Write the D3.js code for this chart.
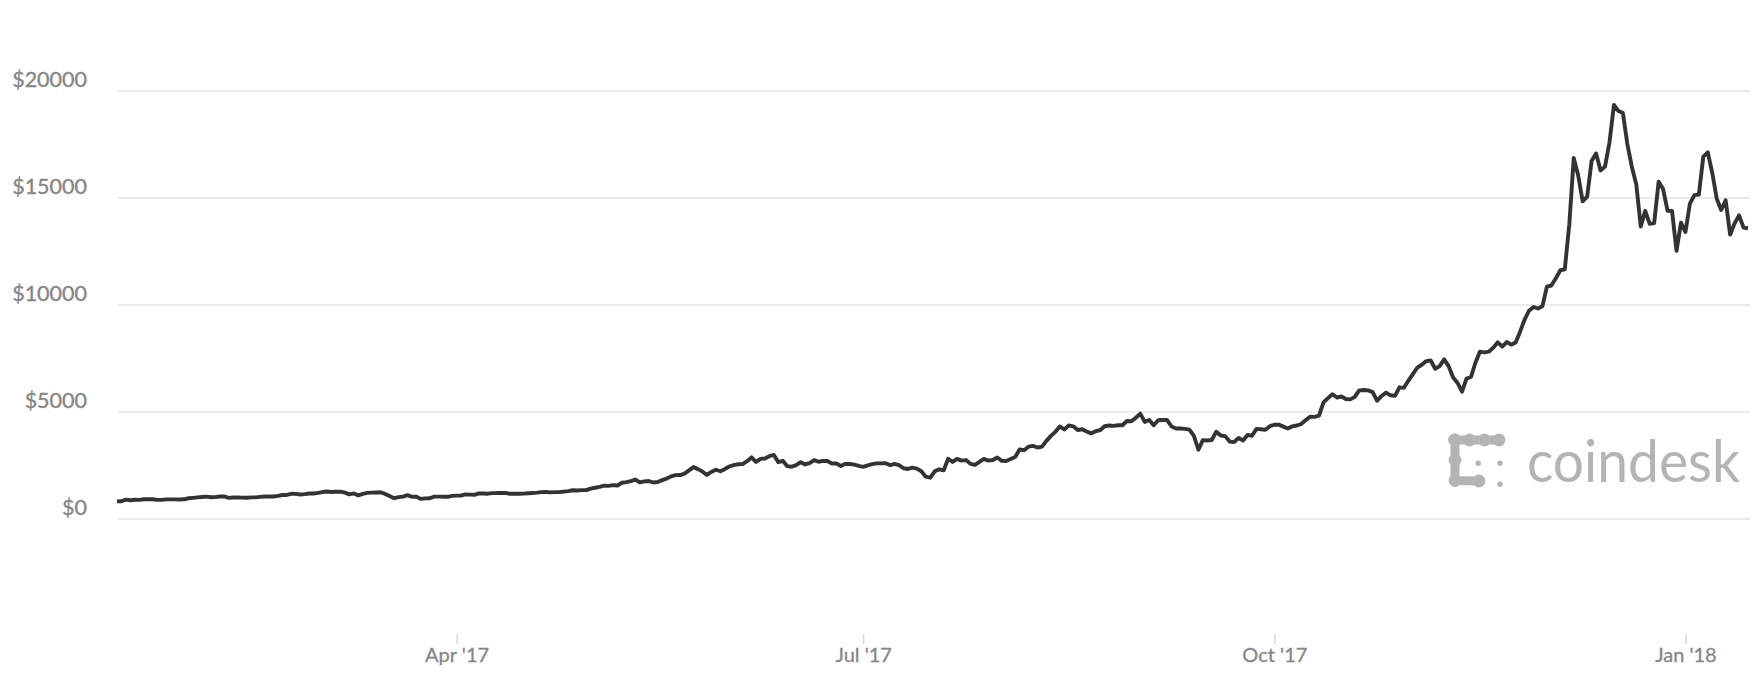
<!DOCTYPE html>
<html>
<head>
<meta charset="utf-8">
<script src="https://cdn.jsdelivr.net/npm/d3@7"></script>
<style>
  html, body { margin: 0; padding: 0; background: #ffffff; }
  svg { display: block; }
</style>
</head>
<body>
<svg id="chart" width="1760" height="680"></svg>
<script>
// ---- Data (daily BTC price, USD) ----
const startDate = "2017-01-15";
const endDate = "2018-01-15";
const pricesJan2017 = [822, 831, 907, 874, 900, 895, 922, 924, 921, 892, 894, 915, 918, 919, 914, 920, 970];
const pricesFeb2017 = [989, 1009, 1029, 1045, 1015, 1024, 1052, 1054, 988, 1004, 1010, 999, 996, 1010, 1011, 1035, 1051, 1055, 1052, 1083, 1120, 1124, 1177, 1173, 1145, 1164, 1192, 1190];
const pricesMar2017 = [1222, 1259, 1286, 1263, 1273, 1280, 1235, 1151, 1194, 1106, 1175, 1221, 1231, 1240, 1250, 1172, 1071, 971, 1022, 1044, 1115, 1039, 1044, 940, 964, 970, 1046, 1045, 1041, 1037, 1079];
const pricesApr2017 = [1090, 1098, 1147, 1141, 1133, 1193, 1191, 1183, 1209, 1212, 1223, 1216, 1177, 1181, 1183, 1187, 1206, 1218, 1232, 1258, 1262, 1243, 1256, 1257, 1280, 1303, 1345, 1331, 1347, 1351];
const pricesMay2017 = [1422, 1459, 1499, 1558, 1548, 1581, 1567, 1692, 1720, 1767, 1845, 1708, 1757, 1775, 1706, 1727, 1818, 1888, 1987, 2052, 2055, 2122, 2273, 2427, 2330, 2223, 2060, 2200, 2303, 2230, 2330];
const pricesJun2017 = [2453, 2519, 2557, 2563, 2704, 2879, 2666, 2810, 2828, 2933, 2995, 2658, 2721, 2468, 2444, 2518, 2656, 2549, 2612, 2750, 2674, 2718, 2710, 2590, 2590, 2478, 2577, 2570, 2539, 2480];
const pricesJul2017 = [2434, 2506, 2564, 2601, 2601, 2608, 2518, 2571, 2518, 2372, 2337, 2398, 2357, 2233, 1977, 1929, 2228, 2318, 2273, 2817, 2667, 2810, 2730, 2754, 2576, 2529, 2671, 2809, 2726, 2757, 2875];
const pricesAug2017 = [2718, 2710, 2804, 2895, 3252, 3213, 3378, 3419, 3342, 3381, 3650, 3884, 4073, 4325, 4182, 4376, 4331, 4160, 4194, 4087, 4001, 4100, 4151, 4334, 4371, 4352, 4382, 4382, 4579, 4565, 4735];
const pricesSep2017 = [4921, 4538, 4630, 4380, 4613, 4624, 4625, 4322, 4229, 4226, 4211, 4174, 3879, 3236, 3686, 3667, 3690, 4080, 3900, 3872, 3617, 3600, 3786, 3667, 3928, 3892, 4210, 4194, 4167, 4338];
const pricesOct2017 = [4404, 4409, 4317, 4229, 4328, 4370, 4437, 4611, 4778, 4772, 4826, 5446, 5647, 5831, 5678, 5725, 5605, 5590, 5708, 6011, 6031, 6009, 5930, 5526, 5750, 5904, 5780, 5754, 6153, 6130, 6468];
const pricesNov2017 = [6767, 7078, 7208, 7379, 7407, 7023, 7144, 7460, 7143, 6618, 6357, 5950, 6559, 6635, 7301, 7815, 7786, 7818, 8007, 8255, 8059, 8268, 8148, 8250, 8753, 9319, 9734, 9907, 9837, 9946];
const pricesDec2017 = [10861, 10912, 11246, 11623, 11667, 13750, 16867, 16050, 14843, 15060, 16733, 17083, 16286, 16467, 17604, 19345, 19065, 18972, 17523, 16461, 15632, 13665, 14397, 13790, 13833, 15757, 15416, 14399, 14392, 12531, 13850];
const pricesJan2018 = [13412, 14740, 15135, 15156, 16937, 17135, 16178, 14970, 14439, 14890, 13287, 13813, 14189, 13619, 13586];

const yTickValues = [0, 5000, 10000, 15000, 20000];
const yTickLabels = ["$0", "$5000", "$10000", "$15000", "$20000"];
const xTickDates = ["2017-04-01", "2017-07-01", "2017-10-01", "2018-01-01"];
const xTickLabels = ["Apr '17", "Jul '17", "Oct '17", "Jan '18"];
const brandName = "coindesk";

// ---- Build series ----
const parse = d3.utcParse("%Y-%m-%d");
const allPrices = [].concat(pricesJan2017, pricesFeb2017, pricesMar2017, pricesApr2017,
  pricesMay2017, pricesJun2017, pricesJul2017, pricesAug2017, pricesSep2017,
  pricesOct2017, pricesNov2017, pricesDec2017, pricesJan2018);
const t0 = parse(startDate);
const series = allPrices.map((v, i) => ({ date: d3.utcDay.offset(t0, i), value: v }));

// ---- Scales ----
const svg = d3.select("#chart");
const x = d3.scaleUtc().domain([parse(startDate), parse(endDate)]).range([117, 1748]);
const y = d3.scaleLinear().domain([0, 20000]).range([519, 91]);

const gridX0 = 118, gridX1 = 1750;

// ---- Grid + y labels ----
const gy = svg.append("g");
gy.selectAll("line.grid").data(yTickValues).join("line")
  .attr("class", "grid")
  .attr("x1", gridX0).attr("x2", gridX1)
  .attr("y1", d => y(d)).attr("y2", d => y(d))
  .attr("stroke", "#e4e4e4").attr("stroke-width", 1.6);
gy.selectAll("text.ylab").data(yTickValues).join("text")
  .attr("class", "ylab")
  .attr("x", 87).attr("y", d => y(d) - 4.5)
  .attr("text-anchor", "end")
  .attr("font-family", "Lato, 'Open Sans', sans-serif")
  .attr("font-size", 21.5)
  .attr("fill", "#868686")
  .attr("stroke", "#868686").attr("stroke-width", 0.35)
  .text((d, i) => yTickLabels[i]);

// ---- X axis ----
const xTicks = xTickDates.map(parse);
const xAxis = d3.axisBottom(x).tickValues(xTicks).tickSize(10).tickPadding(6)
  .tickFormat((d, i) => xTickLabels[i]);
const gx = svg.append("g").attr("transform", "translate(0,634)").call(xAxis);
gx.select(".domain").remove();
gx.selectAll(".tick line").attr("stroke", "#c7cfe2").attr("stroke-width", 1.2);
gx.selectAll(".tick text")
  .attr("font-family", "Lato, 'Open Sans', sans-serif")
  .attr("font-size", 20)
  .attr("fill", "#868686")
  .attr("stroke", "#868686").attr("stroke-width", 0.3)
  .attr("dy", "0")
  .attr("y", 27.5);

// ---- Logo (watermark) ----
const logoColor = "#b4b4b4";
const logo = svg.append("g").attr("fill", logoColor).attr("stroke", logoColor);
const topRow = [[1454.5, 440], [1469.5, 440], [1484.5, 440], [1499, 440]];
const leftCol = [[1455, 440], [1455, 460], [1455, 480.5], [1479, 481]];
const lineGen = d3.line();
logo.append("path").attr("d", lineGen(topRow)).attr("fill", "none").attr("stroke-width", 9).attr("stroke-linecap", "round");
logo.append("path").attr("d", lineGen(leftCol)).attr("fill", "none").attr("stroke-width", 9).attr("stroke-linecap", "round").attr("stroke-linejoin", "round");
logo.selectAll("circle.blob").data(topRow.concat(leftCol)).join("circle")
  .attr("class", "blob").attr("cx", d => d[0]).attr("cy", d => d[1]).attr("r", 6.4).attr("stroke", "none");
logo.selectAll("circle.dot").data([[1478.3, 463.3], [1500, 463.3], [1500, 484.3]]).join("circle")
  .attr("class", "dot").attr("cx", d => d[0]).attr("cy", d => d[1]).attr("r", 2.7).attr("stroke", "none");
svg.append("text")
  .attr("x", 1527).attr("y", 481.5)
  .attr("font-family", "Lato, 'Open Sans', sans-serif")
  .attr("font-weight", 400)
  .attr("font-size", 58)
  .attr("fill", logoColor)
  .attr("textLength", 213).attr("lengthAdjust", "spacingAndGlyphs")
  .text(brandName);

// ---- Line ----
const line = d3.line().x(d => x(d.date)).y(d => y(d.value));
svg.append("path").datum(series)
  .attr("d", line)
  .attr("fill", "none")
  .attr("stroke", "#333333")
  .attr("stroke-width", 3.9)
  .attr("stroke-linejoin", "round")
  .attr("stroke-linecap", "butt");
</script>
</body>
</html>
